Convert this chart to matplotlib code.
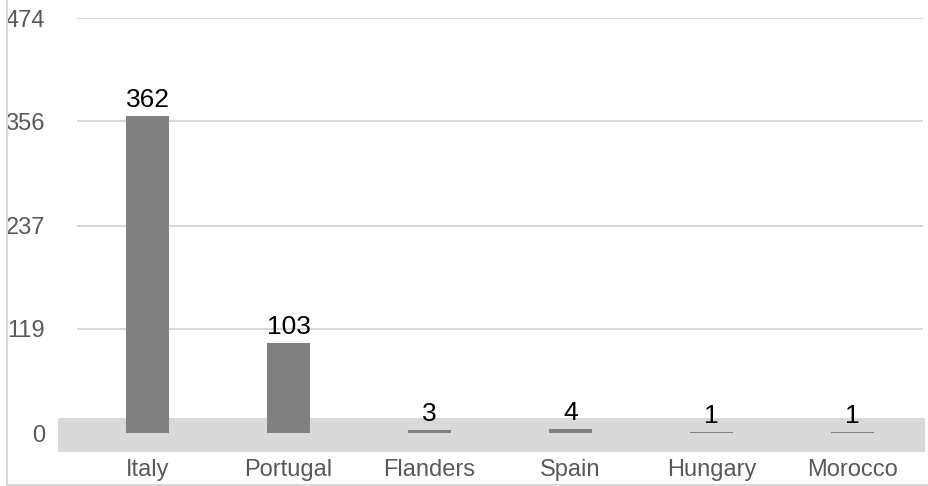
import matplotlib.pyplot as plt
from matplotlib.patches import Rectangle
from matplotlib.lines import Line2D

plt.rcParams['font.family'] = ['Liberation Sans', 'DejaVu Sans']

countries = ['Italy', 'Portugal', 'Flanders', 'Spain', 'Hungary', 'Morocco']
counts = [362, 103, 3, 4, 1, 1]
yticks = [0, 119, 237, 356, 474]

fig = plt.figure(figsize=(9.29, 4.86), dpi=100)
# axes spans x 77..923 px, y 18..452 px
ax = fig.add_axes([77 / 929, 34 / 486, 846 / 929, 434 / 486])

x = list(range(len(countries)))
ax.set_xlim(-0.5, 5.5)
ax.set_ylim(-21.7, 474)

# grey floor band
ax.add_patch(Rectangle((-0.635, -21.7), 6.15, 38.7, facecolor='#d9d9d9',
                       edgecolor='none', zorder=1, clip_on=False))

for t in yticks[1:]:
    ax.axhline(t, color='#d9d9d9', lw=1.5, zorder=0)

ax.bar(x, counts, width=0.305, color='#808080', zorder=2)

for xi, v in zip(x, counts):
    ax.annotate(str(v), (xi, v), xytext=(0, 3), textcoords='offset points',
                ha='center', va='bottom', fontsize=19, color='black')

ax.set_xticks(x)
ax.set_xticklabels(countries, fontsize=17, color='#595959')
ax.set_yticks(yticks)
ax.set_yticklabels([str(t) for t in yticks], fontsize=17, color='#595959')
ax.tick_params(length=0)
ax.tick_params(axis='x', pad=5)
ax.tick_params(axis='y', pad=23)
for s in ax.spines.values():
    s.set_visible(False)

# outer frame (left and bottom)
fig.add_artist(Line2D([7.5 / 929, 7.5 / 929], [1 / 486, 1], color='#d9d9d9', lw=1.5))
fig.add_artist(Line2D([7.5 / 929, 1], [1.5 / 486, 1.5 / 486], color='#d9d9d9', lw=1.5))

fig.savefig('out.png', dpi=100)
